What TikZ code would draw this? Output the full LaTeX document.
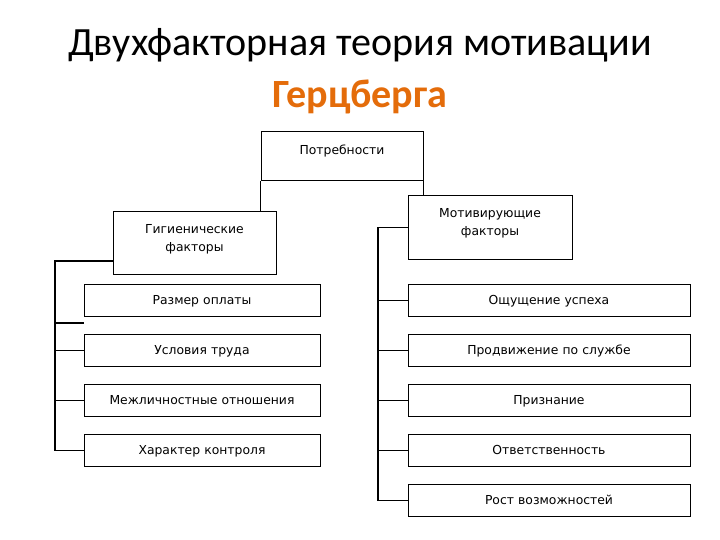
\documentclass[tikz,border=0pt]{standalone}
\usepackage{fontspec}
\setmainfont{DejaVu Sans}
\newfontfamily\titlefont{Carlito}
\usetikzlibrary{positioning}
\definecolor{orange}{HTML}{E46C0A}
\tikzset{
  every picture/.style={line join=miter},
  box/.style={draw, line width=0.7pt, inner sep=0pt, align=center, font=\fontsize{8.8}{12.5}\selectfont},
  small/.style={box, text height=0.5cm, text depth=0.3cm},
  lbox/.style={small, text width=5.9cm},
  rbox/.style={small, text width=7.05cm},
  link/.style={line width=0.9pt},
}

\begin{document}
\begin{tikzpicture}[node distance=0.425cm]
\useasboundingbox (0,0) rectangle (18,-13.5);
% title
\node[font=\titlefont\fontsize{28.5}{32}\selectfont, anchor=base] (title) at (9,-1.375) {Двухфакторная теория мотивации};
\node[font=\titlefont\bfseries\fontsize{28.5}{32}\selectfont, text=orange, anchor=base] (author) at (9,-2.675) {Герцберга};
% top and the two groups
\node[box, anchor=north, text width=4.05cm, text height=0.575cm, text depth=0.65cm] (need) at (8.55,-3.275) {Потребности};
\node[box, anchor=north, text width=4.075cm, text height=0.55cm, text depth=1.025cm] (hyg) at (4.8625,-5.275) {Гигиенические\\факторы};
\node[box, anchor=north, text width=4.1cm, text height=0.55cm, text depth=1.05cm] (mot) at (12.25,-4.875) {Мотивирующие\\факторы};
% hygiene factors
\node[lbox, anchor=north] (pay) at (5.05,-7.1) {Размер оплаты};
\node[lbox, below=of pay] (work) {Условия труда};
\node[lbox, below=of work] (rel) {Межличностные отношения};
\node[lbox, below=of rel] (ctrl) {Характер контроля};
% motivators
\node[rbox, anchor=north] (succ) at (13.725,-7.1) {Ощущение успеха};
\node[rbox, below=of succ] (prom) {Продвижение по службе};
\node[rbox, below=of prom] (recog) {Признание};
\node[rbox, below=of recog] (resp) {Ответственность};
\node[rbox, below=of resp] (grow) {Рост возможностей};
% links
\draw[link] (need.south west) -- (need.south west |- hyg.north);
\draw[link] (need.south east) -- (need.south east |- mot.north);
\coordinate (lt) at (1.375,0);
\coordinate (rt) at (9.45,0);
\coordinate (gap) at ([yshift=-0.15cm]pay.south west);
\draw[link] ([yshift=0.35cm]hyg.south west) -| (lt |- ctrl.west) -- (ctrl.west);
\draw[link] (lt |- gap) -- (gap);
\foreach \n in {work,rel}
  \draw[link] (lt |- \n.west) -- (\n.west);
\draw[link] (mot.west) -| (rt |- grow.west) -- (grow.west);
\foreach \n in {succ,prom,recog,resp}
  \draw[link] (rt |- \n.west) -- (\n.west);
\end{tikzpicture}
\end{document}
